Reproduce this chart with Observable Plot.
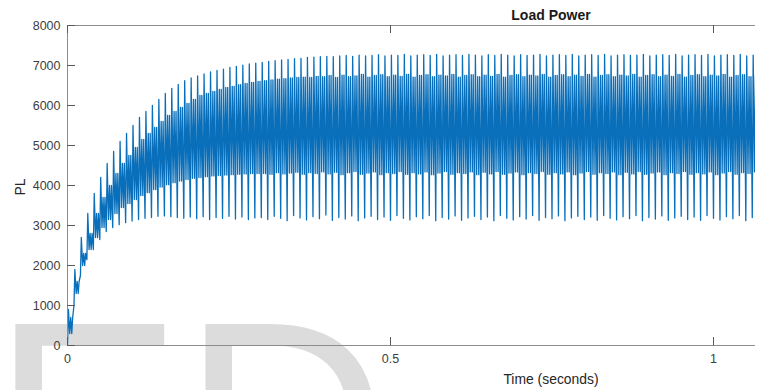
<!DOCTYPE html>
<html><head><meta charset="utf-8">
<script src="https://cdn.jsdelivr.net/npm/d3@7"></script>
<script src="https://cdn.jsdelivr.net/npm/@observablehq/plot@0.6"></script>
<style>
html,body{margin:0;padding:0;background:#fff;overflow:hidden}
#wrap{position:relative;width:763px;height:390px}
</style></head><body><div id="wrap"></div>
<script>
// ---- Data (one value per 0.01 s ripple cycle) ----
const title = "Load Power";
const xLabel = "Time (seconds)";
const yLabel = "PL";
const xTicks = [0, 0.5, 1];
const xTickLabels = ["0", "0.5", "1"];
const yTicks = [0, 1000, 2000, 3000, 4000, 5000, 6000, 7000, 8000];
const cyclePeriod = 0.01;

const peak = [
  900, 1900, 2700, 3300, 3800, 4200, 4550, 4850, 5100, 5300,
  5500, 5700, 5850, 6000, 6150, 6300, 6430, 6530, 6620, 6690,
  6740, 6790, 6840, 6880, 6910, 6950, 6980, 7010, 7040, 7060,
  7080, 7100, 7120, 7140, 7150, 7170, 7180, 7200, 7210, 7220,
  7230, 7220, 7240, 7250, 7230, 7260, 7240, 7250, 7270, 7240,
  7260, 7250, 7280, 7240, 7260, 7270, 7250, 7280, 7240, 7260,
  7270, 7250, 7280, 7260, 7240, 7270, 7250, 7280, 7260, 7240,
  7270, 7250, 7260, 7280, 7240, 7260, 7270, 7250, 7280, 7240,
  7260, 7270, 7250, 7280, 7240, 7260, 7270, 7250, 7260, 7280,
  7240, 7260, 7270, 7250, 7280, 7240, 7260, 7270, 7250, 7280,
  7240, 7260, 7270, 7250, 7280, 7240, 7260
];
const trough = [
  0, 1000, 1750, 2150, 2400, 2650, 2850, 2950, 3020, 3070,
  3110, 3150, 3180, 3200, 3230, 3240, 3220, 3200, 3180, 3210,
  3170, 3220, 3150, 3200, 3180, 3230, 3160, 3210, 3150, 3190,
  3200, 3150, 3230, 3180, 3120, 3250, 3190, 3140, 3220, 3170,
  3260, 3130, 3200, 3160, 3240, 3120, 3190, 3230, 3150, 3210,
  3130, 3250, 3180, 3140, 3220, 3170, 3250, 3120, 3200, 3160,
  3240, 3130, 3190, 3230, 3150, 3210, 3120, 3250, 3180, 3140,
  3220, 3160, 3250, 3130, 3200, 3170, 3240, 3120, 3190, 3230,
  3150, 3210, 3130, 3250, 3180, 3140, 3220, 3170, 3250, 3120,
  3200, 3160, 3240, 3130, 3190, 3230, 3150, 3210, 3130, 3250,
  3180, 3140, 3220, 3170, 3250, 3120, 3200
];
const bandHi = [
  700, 1600, 2300, 2800, 3300, 3700, 4000, 4300, 4550, 4750,
  4950, 5150, 5300, 5450, 5600, 5750, 5850, 5950, 6050, 6150,
  6250, 6300, 6350, 6400, 6450, 6480, 6520, 6550, 6580, 6600,
  6620, 6640, 6660, 6670, 6690, 6700, 6710, 6700, 6730, 6720,
  6750, 6700, 6760, 6720, 6740, 6780, 6710, 6750, 6770, 6720,
  6760, 6730, 6780, 6710, 6750, 6770, 6720, 6760, 6740, 6780,
  6710, 6750, 6770, 6720, 6760, 6730, 6780, 6710, 6750, 6770,
  6720, 6760, 6740, 6780, 6710, 6750, 6770, 6720, 6760, 6730,
  6780, 6710, 6750, 6770, 6720, 6760, 6740, 6780, 6710, 6750,
  6770, 6720, 6760, 6730, 6780, 6710, 6750, 6770, 6720, 6760,
  6740, 6780, 6710, 6750, 6770, 6720, 6760
];
const bandLo = [
  300, 1300, 2000, 2400, 2700, 2950, 3150, 3300, 3450, 3550,
  3650, 3750, 3820, 3900, 3960, 4020, 4070, 4110, 4150, 4180,
  4200, 4220, 4240, 4250, 4260, 4270, 4280, 4290, 4300, 4300,
  4300, 4280, 4320, 4290, 4310, 4330, 4280, 4320, 4300, 4340,
  4290, 4330, 4270, 4320, 4350, 4280, 4310, 4340, 4270, 4320,
  4300, 4350, 4280, 4320, 4290, 4340, 4270, 4310, 4350, 4280,
  4320, 4300, 4340, 4270, 4330, 4290, 4350, 4280, 4310, 4340,
  4270, 4320, 4300, 4350, 4280, 4320, 4290, 4340, 4270, 4310,
  4350, 4280, 4320, 4300, 4340, 4270, 4330, 4290, 4350, 4280,
  4310, 4340, 4270, 4320, 4300, 4350, 4280, 4320, 4290, 4340,
  4270, 4310, 4350, 4280, 4320, 4300, 4340
];

// sequence of samples inside one ripple cycle (fraction of the period)
const cycleShape = [["trough", 0], ["peak", 0.14], ["bandLo", 0.34], ["bandHi", 0.5], ["bandLo", 0.66], ["bandHi", 0.8]];
const series = {peak, trough, bandHi, bandLo};
const samples = d3.range(peak.length).flatMap(k =>
  cycleShape.map(([name, frac]) => ({t: (k + frac) * cyclePeriod, v: series[name][k]}))
);

const W = 763, H = 390, mL = 67, mR = 8, mT = 25, mB = 45;
const innerW = W - mL - mR, innerH = H - mT - mB;
const frameColor = "#8c8c8c", tickColor = "#5a5a5a";

const svg = Plot.plot({
  width: W, height: H,
  marginLeft: mL, marginRight: mR, marginTop: mT, marginBottom: mB,
  style: {fontFamily: "'Liberation Sans', Arial, sans-serif", fontSize: "12.5px", color: "#404040", background: "#fff"},
  x: {domain: [0, 1.065], label: null},
  y: {domain: [0, 8000], label: null},
  marks: [
    Plot.line(samples, {x: "t", y: "v", stroke: "#0a6fba", strokeWidth: 1.3, clip: true}),
    Plot.ruleY([0, 8000], {stroke: frameColor}),
    Plot.ruleX([0], {stroke: frameColor}),
    Plot.tickY(yTicks, {y: d => d, stroke: tickColor, insetRight: innerW - 8}),
    Plot.tickX(xTicks, {x: d => d, stroke: tickColor, insetTop: innerH - 8}),
    Plot.tickX(xTicks, {x: d => d, stroke: tickColor, insetBottom: innerH - 8}),
    Plot.axisY(yTicks, {anchor: "left", tickSize: 0, tickPadding: 7, tickFormat: d => String(d)}),
    Plot.axisX(xTicks, {anchor: "bottom", tickSize: 0, tickPadding: 9, tickFormat: (d, i) => xTickLabels[i]})
  ]
});

const s = d3.select(svg);
// faint watermark letters behind everything
s.insert("text", ":first-child")
  .attr("x", -8).attr("y", 520).attr("text-anchor", "start")
  .attr("font-family", "'Liberation Sans', Arial, sans-serif")
  .attr("font-size", 285).attr("fill", "#dcdcdc")
  .text("ED");
s.append("text").attr("x", 551).attr("y", 20).attr("text-anchor", "middle")
  .attr("font-weight", "bold").attr("font-size", 14).attr("fill", "#1a1a1a").text(title);
s.append("text").attr("x", 551).attr("y", 384).attr("text-anchor", "middle")
  .attr("font-size", 13.9).attr("fill", "#262626").text(xLabel);
s.append("text").attr("transform", "translate(25,187) rotate(-90)").attr("text-anchor", "middle")
  .attr("font-size", 13.9).attr("fill", "#262626").text(yLabel);

document.getElementById("wrap").appendChild(svg);
</script></body></html>
